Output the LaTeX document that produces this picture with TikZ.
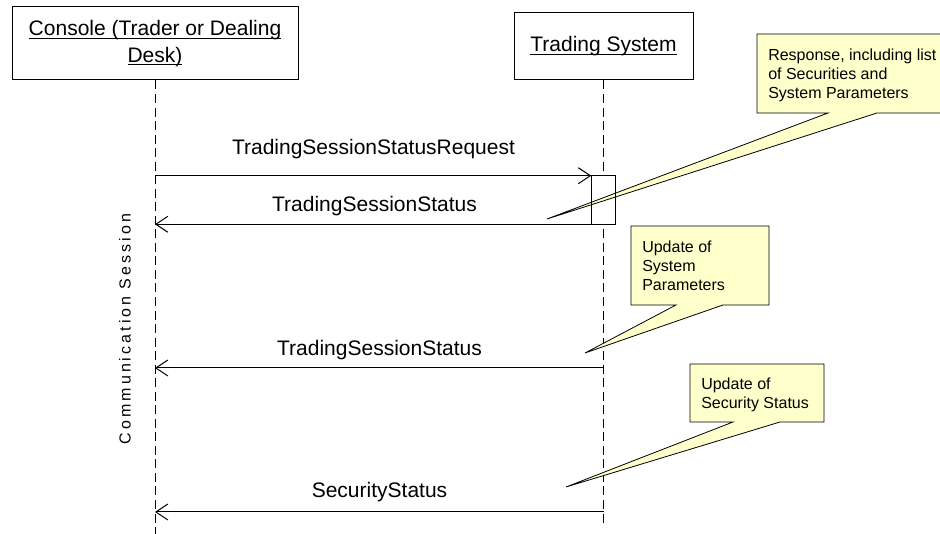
\documentclass[tikz,border=0pt]{standalone}
\usepackage{fontspec}
\setmainfont{Liberation Sans}
\newfontfamily\spacedfont[LetterSpace=19]{Liberation Sans}
\usetikzlibrary{arrows.meta}
\definecolor{noteyellow}{RGB}{255,255,204}
\newsavebox\ulbox
\newcommand\hdrul[1]{\sbox\ulbox{#1}\rlap{\rule[-2.3pt]{\wd\ulbox}{0.8pt}}\usebox\ulbox}
\begin{document}
\begin{tikzpicture}[x=0.75pt,y=-0.75pt,
  lbl/.style={font=\fontsize{15.75}{20}\selectfont, inner sep=0pt, anchor=base},
  hdr/.style={draw, fill=white, line width=0.75pt, align=center, font=\fontsize{15.75}{20}\selectfont, inner sep=0pt},
  life/.style={line width=0.75pt, dash pattern=on 6.75pt off 3.4pt},
  msg/.style={line width=0.75pt, -{Straight Barb[length=9pt,width=12pt]}},
  note/.style={draw, fill=noteyellow, line width=0.6pt, line join=miter},
  notetext/.style={font=\fontsize{12}{14.25}\selectfont, align=left, inner sep=0pt, anchor=north west},
  actfill/.style={fill=white, draw=none, inner sep=0pt, minimum width=18pt, minimum height=36pt}]
\useasboundingbox (0,0) rectangle (940,534);
\clip (0,0) rectangle (940,534);
% headers
\node[hdr, minimum width=214.5pt, minimum height=54.75pt] (console) at (155,43.5)
  {\hdrul{Console (Trader or Dealing}\\\hdrul{Desk)}};
\node[hdr, minimum width=134.25pt, minimum height=50.25pt] (trading) at (603.5,46.5)
  {\hdrul{Trading System}};
\coordinate (cbottom) at (0,534);
\coordinate (tbottom) at (0,527);
% lifelines
\draw[life] (console.south) -- (console.south |- cbottom);
\draw[life] (trading.south) -- (trading.south |- tbottom);
% activation box (fill)
\node[actfill] (actbox) at (603.5,200) {};
% vertical label
\node[font=\spacedfont\fontsize{12}{14}\selectfont, rotate=90, inner sep=0pt] (cs) at (125,329) {Communication Session};
% notes
\coordinate (tip1) at (547,219);
\coordinate (tip2) at (585,353);
\coordinate (tip3) at (566,487);
\draw[note] (757,34) -- (950,34) -- (950,113) -- (877,113) -- (tip1) -- (828,113) -- (757,113) -- cycle;
\draw[note] (631,226) -- (769,226) -- (769,305) -- (723,305) -- (tip2) -- (676,305) -- (631,305) -- cycle;
\draw[note] (690,364) -- (824,364) -- (824,422) -- (780,422) -- (tip3) -- (733,422) -- (690,422) -- cycle;
\node[notetext] (n1) at (768,48.3) {Response, including list\\of Securities and\\System Parameters};
\node[notetext] (n2) at (642,240.3) {Update of\\System\\Parameters};
\node[notetext] (n3) at (701,377.3) {Update of\\Security Status};
% activation box outline
\draw[line width=0.75pt] (actbox.south west) rectangle (actbox.north east);
% messages
\coordinate (m3) at (0,368);
\coordinate (m4) at (0,512);
\draw[msg] (console.south |- actbox.north west) -- (actbox.north west);
\draw[msg] (actbox.south west) -- (console.south |- actbox.south west);
\draw[msg] (trading.south |- m3) -- (console.south |- m3);
\draw[msg] (trading.south |- m4) -- (console.south |- m4);
% message labels
\node[lbl] (l1) at (373.5,155) {TradingSessionStatusRequest};
\node[lbl] (l2) at (374.5,212) {TradingSessionStatus};
\node[lbl] (l3) at (379.5,356) {TradingSessionStatus};
\node[lbl] (l4) at (379.5,498) {SecurityStatus};
\end{tikzpicture}
\end{document}
